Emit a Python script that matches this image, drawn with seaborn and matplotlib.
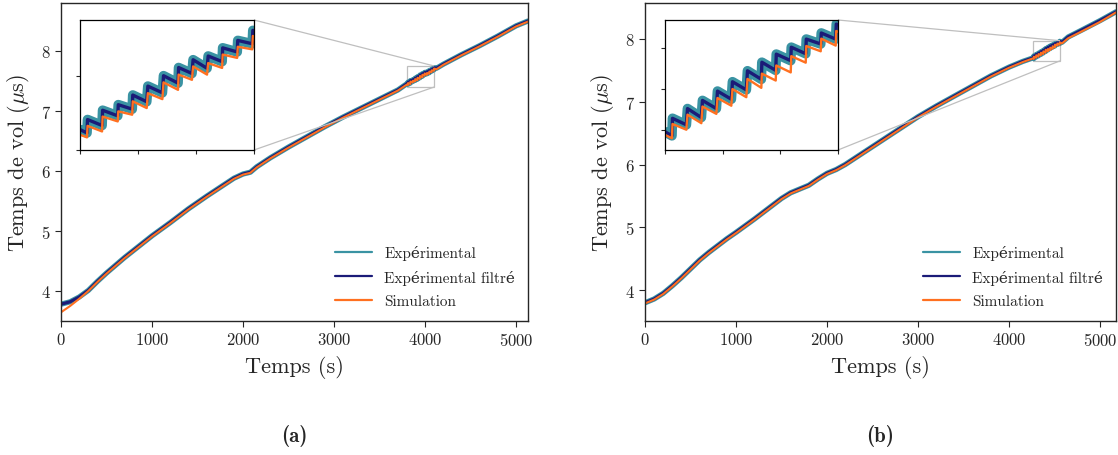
import numpy as np
import pandas as pd
import matplotlib
matplotlib.use("Agg")
import matplotlib.pyplot as plt
import seaborn as sns
from matplotlib.lines import Line2D
from mpl_toolkits.axes_grid1.inset_locator import mark_inset

# ---- panel (a): coarse trend ----
t_a = [0, 100, 200, 300, 400, 500, 600, 700, 800, 900, 1000, 1200, 1400, 1600, 1800, 1900,
       2000, 2080, 2150, 2300, 2500, 2700, 2900, 3100, 3300, 3500, 3700,
       4200, 4400, 4600, 4800, 5000, 5130]
exp_a = [3.78, 3.82, 3.90, 4.01, 4.16, 4.30, 4.43, 4.56, 4.68, 4.80, 4.92, 5.14, 5.37, 5.58, 5.78, 5.88,
         5.95, 5.98, 6.07, 6.22, 6.40, 6.57, 6.74, 6.90, 7.05, 7.20, 7.35,
         7.78, 7.94, 8.09, 8.25, 8.42, 8.50]
sim_a = [3.645, 3.75, 3.87, 4.00, 4.15, 4.29, 4.42, 4.55, 4.67, 4.79, 4.91, 5.13, 5.36, 5.57, 5.77, 5.87,
         5.94, 5.97, 6.06, 6.21, 6.39, 6.56, 6.73, 6.89, 7.04, 7.19, 7.34,
         7.77, 7.93, 8.08, 8.24, 8.41, 8.49]

# panel (a): sawtooth teeth (3800-4100 s)
tooth_start_a = [3800, 3813, 3839, 3866, 3891, 3917, 3944, 3970, 3995, 4021, 4046, 4072, 4098]
tooth_end_a = [3812, 3838, 3865, 3890, 3915, 3942, 3969, 3993, 4019, 4045, 4071, 4097, 4124]
sim_top_a = [7.441, 7.465, 7.490, 7.504, 7.531, 7.553, 7.582, 7.603, 7.625, 7.634, 7.657, 7.678, 7.707]
sim_bot_a = [7.434, 7.450, 7.477, 7.495, 7.513, 7.537, 7.562, 7.589, 7.603, 7.621, 7.648, 7.671, 7.695]
exp_top_a = [7.455, 7.482, 7.507, 7.522, 7.548, 7.572, 7.600, 7.622, 7.643, 7.653, 7.675, 7.695, 7.722]
exp_bot_a = [7.446, 7.466, 7.492, 7.510, 7.530, 7.554, 7.580, 7.606, 7.620, 7.638, 7.664, 7.686, 7.712]

# ---- panel (b) ----
t_b = [0, 100, 200, 300, 400, 500, 600, 700, 800, 900, 1000, 1200, 1400, 1500, 1600, 1700, 1800,
       1900, 2000, 2100, 2200, 2400, 2600, 2800, 3000, 3200, 3400, 3600, 3800, 4000, 4150,
       4650, 4800, 5000, 5175]
exp_b = [3.80, 3.86, 3.95, 4.07, 4.20, 4.34, 4.48, 4.60, 4.71, 4.82, 4.92, 5.13, 5.35, 5.46, 5.55, 5.61, 5.67,
         5.77, 5.86, 5.92, 6.00, 6.19, 6.38, 6.57, 6.76, 6.93, 7.09, 7.25, 7.41, 7.55, 7.64,
         8.03, 8.14, 8.29, 8.43]
sim_b = [3.79, 3.85, 3.94, 4.06, 4.19, 4.33, 4.47, 4.59, 4.70, 4.81, 4.91, 5.12, 5.34, 5.45, 5.54, 5.60, 5.66,
         5.76, 5.85, 5.91, 5.99, 6.18, 6.37, 6.56, 6.75, 6.92, 7.08, 7.24, 7.40, 7.54, 7.63,
         8.01, 8.12, 8.27, 8.42]

tooth_start_b = [4260, 4273, 4299, 4325, 4351, 4377, 4403, 4428, 4453, 4479, 4505, 4531, 4557]
tooth_end_b = [4272, 4297, 4323, 4349, 4375, 4401, 4427, 4452, 4478, 4504, 4530, 4556, 4582]
sim_top_b = [7.687, 7.714, 7.737, 7.757, 7.778, 7.800, 7.825, 7.838, 7.858, 7.881, 7.906, 7.924, 7.943]
sim_bot_b = [7.679, 7.700, 7.716, 7.739, 7.759, 7.780, 7.803, 7.821, 7.841, 7.865, 7.893, 7.907, 7.928]
exp_top_b = [7.695, 7.728, 7.752, 7.772, 7.795, 7.818, 7.845, 7.866, 7.886, 7.903, 7.923, 7.938, 7.960]
exp_bot_b = [7.685, 7.712, 7.730, 7.752, 7.775, 7.798, 7.824, 7.846, 7.870, 7.887, 7.911, 7.923, 7.945]

labels = ["Expérimental", "Expérimental filtré", "Simulation"]
TEAL, NAVY, ORANGE = "#3a93a3", "#1b1b78", "#ff7020"


def build(t_coarse, v_coarse, t0, t1, top, bot):
    t = list(t_coarse)
    v = list(v_coarse)
    for a, b, hi, lo in zip(t0, t1, top, bot):
        t += [a, b]
        v += [hi, lo]
    return pd.DataFrame({"t": t, "v": v}).sort_values("t")


sns.set_style("ticks")
plt.rcParams["font.family"] = ["cmr10", "DejaVu Serif"]
plt.rcParams["mathtext.fontset"] = "cm"
plt.rcParams["axes.formatter.use_mathtext"] = True
plt.rcParams["axes.unicode_minus"] = False

W, H = 1118, 456
fig = plt.figure(figsize=(W / 100, H / 100), dpi=100)

panels = [
    dict(main=[61, 4, 528, 322], ins=[80, 21, 254, 151], xlim=(0, 5130), ylim=(3.5, 8.8),
         zx=(3800, 4100), zy=(7.4, 7.75), yt=[7.4, 7.6],
         exp=build(t_a, exp_a, tooth_start_a, tooth_end_a, exp_top_a, exp_bot_a),
         sim=build(t_a, sim_a, tooth_start_a, tooth_end_a, sim_top_a, sim_bot_a), cap="(a)"),
    dict(main=[645, 4, 1116, 322], ins=[665, 21, 838, 151], xlim=(0, 5175), ylim=(3.51, 8.57),
         zx=(4260, 4560), zy=(7.65, 7.97), yt=[7.7, 7.8, 7.9],
         exp=build(t_b, exp_b, tooth_start_b, tooth_end_b, exp_top_b, exp_bot_b),
         sim=build(t_b, sim_b, tooth_start_b, tooth_end_b, sim_top_b, sim_bot_b), cap="(b)"),
]

for p in panels:
    x0, y0, x1, y1 = p["main"]
    ax = fig.add_axes([x0 / W, 1 - y1 / H, (x1 - x0) / W, (y1 - y0) / H])
    x0, y0, x1, y1 = p["ins"]
    axins = fig.add_axes([x0 / W, 1 - y1 / H, (x1 - x0) / W, (y1 - y0) / H])

    for a, lws in ((ax, (3.8, 2.3, 1.5)), (axins, (7.0, 2.4, 1.7))):
        sns.lineplot(data=p["exp"], x="t", y="v", color=TEAL, lw=lws[0], estimator=None, ax=a)
        sns.lineplot(data=p["exp"], x="t", y="v", color=NAVY, lw=lws[1], estimator=None, ax=a)
        sns.lineplot(data=p["sim"], x="t", y="v", color=ORANGE, lw=lws[2], estimator=None, ax=a)

    ax.set_xlim(*p["xlim"])
    ax.set_ylim(*p["ylim"])
    ax.set_xticks([0, 1000, 2000, 3000, 4000, 5000])
    ax.set_yticks([4, 5, 6, 7, 8])
    ax.tick_params(labelsize=12, length=4, width=0.8, color="0.15")
    ax.set_xlabel("Temps (s)", fontsize=16, labelpad=5)
    ax.set_ylabel(r"Temps de vol ($\mu$s)", fontsize=16, labelpad=6)
    for s in ax.spines.values():
        s.set_color("0.15")
        s.set_linewidth(1.0)

    zx0, zx1 = p["zx"]
    axins.set_xlim(zx0, zx1)
    axins.set_ylim(*p["zy"])
    axins.set_xticks([zx0, zx0 + (zx1 - zx0) / 3, zx0 + 2 * (zx1 - zx0) / 3, zx1])
    axins.set_yticks(p["yt"])
    axins.set_xticklabels([])
    axins.set_yticklabels([])
    axins.set_xlabel("")
    axins.set_ylabel("")
    axins.tick_params(length=3, width=0.8)
    for s in axins.spines.values():
        s.set_color("black")
        s.set_linewidth(0.9)
    mark_inset(ax, axins, loc1=1, loc2=4, fc="none", ec="0.75", lw=0.9)

    handles = [Line2D([], [], color=c, lw=1.6) for c in (TEAL, NAVY, ORANGE)]
    ax.legend(handles, labels, loc="lower right", frameon=False, fontsize=11,
              handlelength=2.4, labelspacing=0.62, borderaxespad=0.45)

    cx = (p["main"][0] + p["main"][2]) / 2 / W
    fig.text(cx, 1 - 436 / H, p["cap"], ha="center", va="center", fontsize=15, family="cmb10")

fig.savefig("out.png", dpi=100)
